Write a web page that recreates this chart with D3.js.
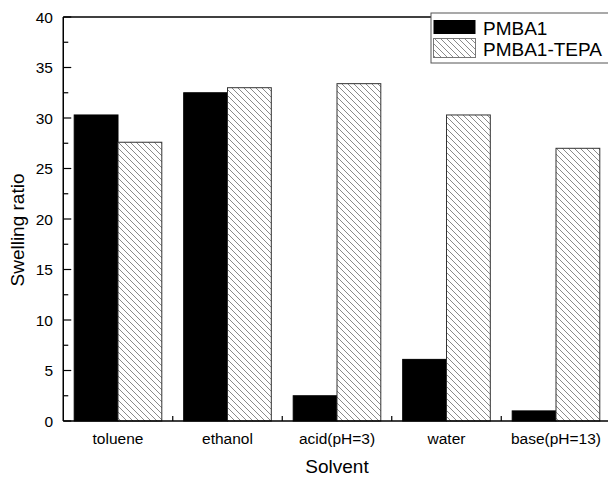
<!DOCTYPE html>
<html><head><meta charset="utf-8">
<script src="https://cdn.jsdelivr.net/npm/d3@7"></script>
<style>body{margin:0;background:#fff}svg{display:block}text{font-family:"Liberation Sans",Arial,sans-serif}</style>
</head><body>
<svg id="c" width="608" height="477"></svg>
<script>
const categories = ["toluene","ethanol","acid(pH=3)","water","base(pH=13)"];
const seriesNames = ["PMBA1","PMBA1-TEPA"];
const pmba1 = [30.3, 32.5, 2.5, 6.1, 1.0];
const pmba1Tepa = [27.6, 33.0, 33.4, 30.3, 27.0];
const yTicks = [0,5,10,15,20,25,30,35,40];
const yMinorTicks = [2.5,7.5,12.5,17.5,22.5,27.5,32.5,37.5];

(function(){
const svg = d3.select("#c");
const pL = 63.25, pR = 610.75, pT = 17, pB = 421;
const defs = svg.append("defs");
const pat = defs.append("pattern").attr("id","hatch").attr("patternUnits","userSpaceOnUse")
  .attr("width",6).attr("height",6);
pat.append("rect").attr("width",6).attr("height",6).attr("fill","#fff");
pat.append("path").attr("d","M0,0 L6,6 M-1,5 L1,7 M5,-1 L7,1")
  .attr("stroke","#8a8a8a").attr("stroke-width",1).attr("fill","none");

const x = d3.scaleBand().domain(categories).range([pL,pR]).paddingInner(0.2).paddingOuter(0.1);
const xs = d3.scaleBand().domain(seriesNames).range([0,x.bandwidth()]);
const y = d3.scaleLinear().domain([0,40]).range([pB,pT]);

const data = [pmba1, pmba1Tepa];
seriesNames.forEach((s,si)=>{
  svg.append("g").selectAll("rect").data(categories).join("rect")
    .attr("x",c=>x(c)+xs(s))
    .attr("y",(c,i)=>y(data[si][i]))
    .attr("width",xs.bandwidth())
    .attr("height",(c,i)=>y(0)-y(data[si][i]))
    .attr("fill", si===0 ? "#000" : "url(#hatch)")
    .attr("stroke", si===0 ? "#000" : "#333")
    .attr("stroke-width",1);
});

const ax = svg.append("g").attr("stroke","#000").attr("stroke-width",1.5).attr("fill","none");
ax.append("line").attr("x1",pL).attr("x2",pL).attr("y1",pT).attr("y2",pB);
ax.append("line").attr("x1",pL).attr("x2",pR).attr("y1",pB).attr("y2",pB);
ax.append("line").attr("x1",pL).attr("x2",pR).attr("y1",pT).attr("y2",pT);

const yt = svg.append("g");
yt.selectAll("line.maj").data(yTicks).join("line").attr("class","maj")
  .attr("x1",pL).attr("x2",pL+8).attr("y1",d=>y(d)).attr("y2",d=>y(d))
  .attr("stroke","#000").attr("stroke-width",1.2);
yt.selectAll("line.min").data(yMinorTicks).join("line").attr("class","min")
  .attr("x1",pL).attr("x2",pL+5).attr("y1",d=>y(d)).attr("y2",d=>y(d))
  .attr("stroke","#000").attr("stroke-width",1.2);
yt.selectAll("text").data(yTicks).join("text")
  .attr("x",53).attr("y",d=>y(d)+5.5).attr("text-anchor","end")
  .attr("font-size",15.5).text(d=>d);

const step = x.step();
svg.append("g").selectAll("line").data(categories.slice(1)).join("line")
  .attr("x1",c=>x(c)-step*x.paddingInner()/2).attr("x2",c=>x(c)-step*x.paddingInner()/2)
  .attr("y1",pB).attr("y2",pB-5).attr("stroke","#000").attr("stroke-width",1.2);
svg.append("g").selectAll("text").data(categories).join("text")
  .attr("x",c=>x(c)+x.bandwidth()/2).attr("y",443.5).attr("text-anchor","middle")
  .attr("font-size",15.5).text(c=>c);

svg.append("text").attr("x",(pL+pR)/2).attr("y",472.5).attr("text-anchor","middle")
  .attr("font-size",19).text("Solvent");
svg.append("text").attr("transform","translate(24,230) rotate(-90)").attr("text-anchor","middle")
  .attr("font-size",19).text("Swelling ratio");

const lg = svg.append("g");
lg.append("rect").attr("x",431).attr("y",13).attr("width",220).attr("height",50)
  .attr("fill","#fff").attr("stroke","#555").attr("stroke-width",1);
lg.append("rect").attr("x",433.5).attr("y",20).attr("width",42).attr("height",14).attr("fill","#000");
lg.append("rect").attr("x",433.5).attr("y",38.5).attr("width",42).attr("height",19)
  .attr("fill","url(#hatch)").attr("stroke","#777").attr("stroke-width",1);
lg.append("text").attr("x",483).attr("y",35).attr("font-size",19).text(seriesNames[0]);
lg.append("text").attr("x",483).attr("y",56).attr("font-size",19).text(seriesNames[1]);
})();
</script>
</body></html>
